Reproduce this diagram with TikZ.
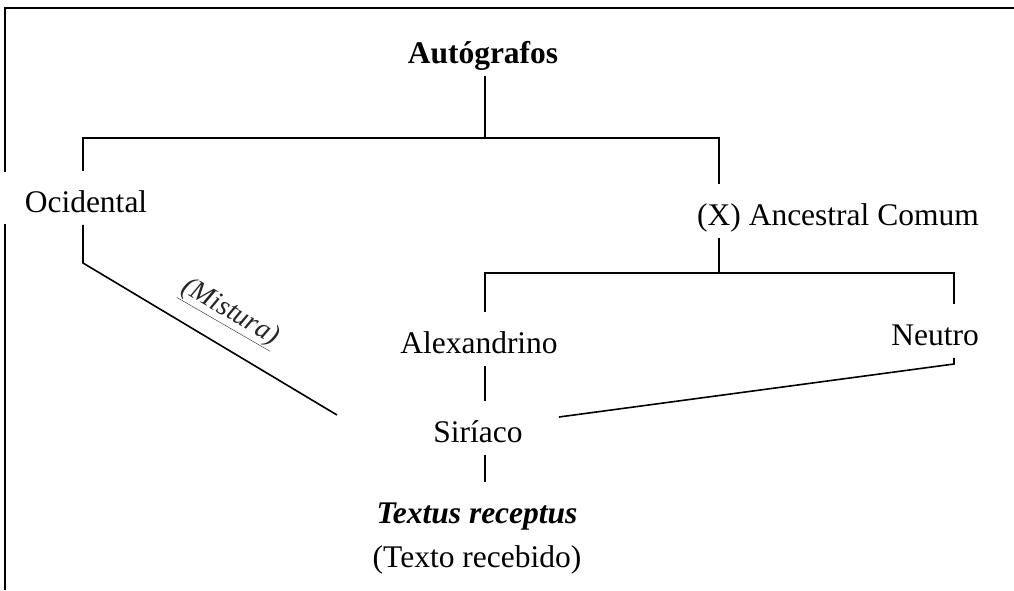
\documentclass[tikz,border=0pt]{standalone}
\usepackage{fontspec}
\setmainfont{Liberation Serif}
\usetikzlibrary{calc}
\newcommand{\bigfont}{\fontsize{31.5}{36}\selectfont}
\tikzset{every path/.style={black,line width=1.6pt}, lbl/.style={font=\bigfont, anchor=base, text height=36pt, text depth=8pt, inner sep=4pt}}

\begin{document}
\begin{tikzpicture}[x=1pt,y=-1pt]
  \useasboundingbox (0,0) rectangle (1014,590);
  % frame (top and left only)
  \draw (5,590) -- (5,8) -- (1014,8);
  \node[lbl,font=\bigfont\bfseries] (auto) at (483,63)  {Autógrafos};
  \node[lbl,fill=white,inner xsep=22pt] (ocid) at (86,212) {Ocidental};
  \node[lbl] (anc)  at (838,225) {(X) Ancestral Comum};
  \node[lbl] (alex) at (479,353) {Alexandrino};
  \node[lbl] (neu)  at (935,345) {Neutro};
  \node[lbl] (sir)  at (478,442) {Siríaco};
  \node[lbl,font=\bigfont\bfseries\itshape] (txr) at (477,523) {Textus receptus};
  \node[lbl] (txt)  at (477,567) {(Texto recebido)};
  \coordinate (b1l) at (83,138);
  \coordinate (b1r) at (719,138);
  \coordinate (b2l) at (485,273);
  \coordinate (b2r) at (954,273);
  \coordinate (mk)   at (83,263);
  \coordinate (mkend) at (337,415);
  \coordinate (nk)   at (954,364);
  \coordinate (sirr) at (559,417);
  \draw (auto.south -| b2l) -- (b2l |- b1l);
  \draw (ocid.north -| b1l) -- (b1l) -- (b1r) -- (anc.north -| b1r);
  \draw (anc.south -| b1r) -- (b1r |- b2l);
  \draw (alex.north -| b2l) -- (b2l) -- (b2r) -- (neu.north -| b2r);
  \draw (alex.south -| b2l) -- (sir.north -| b2l);
  \draw (sir.south -| b2l) -- (txr.north -| b2l);
  \draw (ocid.south -| b1l) -- (mk) -- (mkend);
  \draw (neu.south -| b2r) -- (nk) -- (sirr);
  \node[font=\fontsize{28}{32}\selectfont\itshape, rotate=-30, text=black!85] (mist) at (230,313) {\underline{(Mistura)}};
\end{tikzpicture}
\end{document}
